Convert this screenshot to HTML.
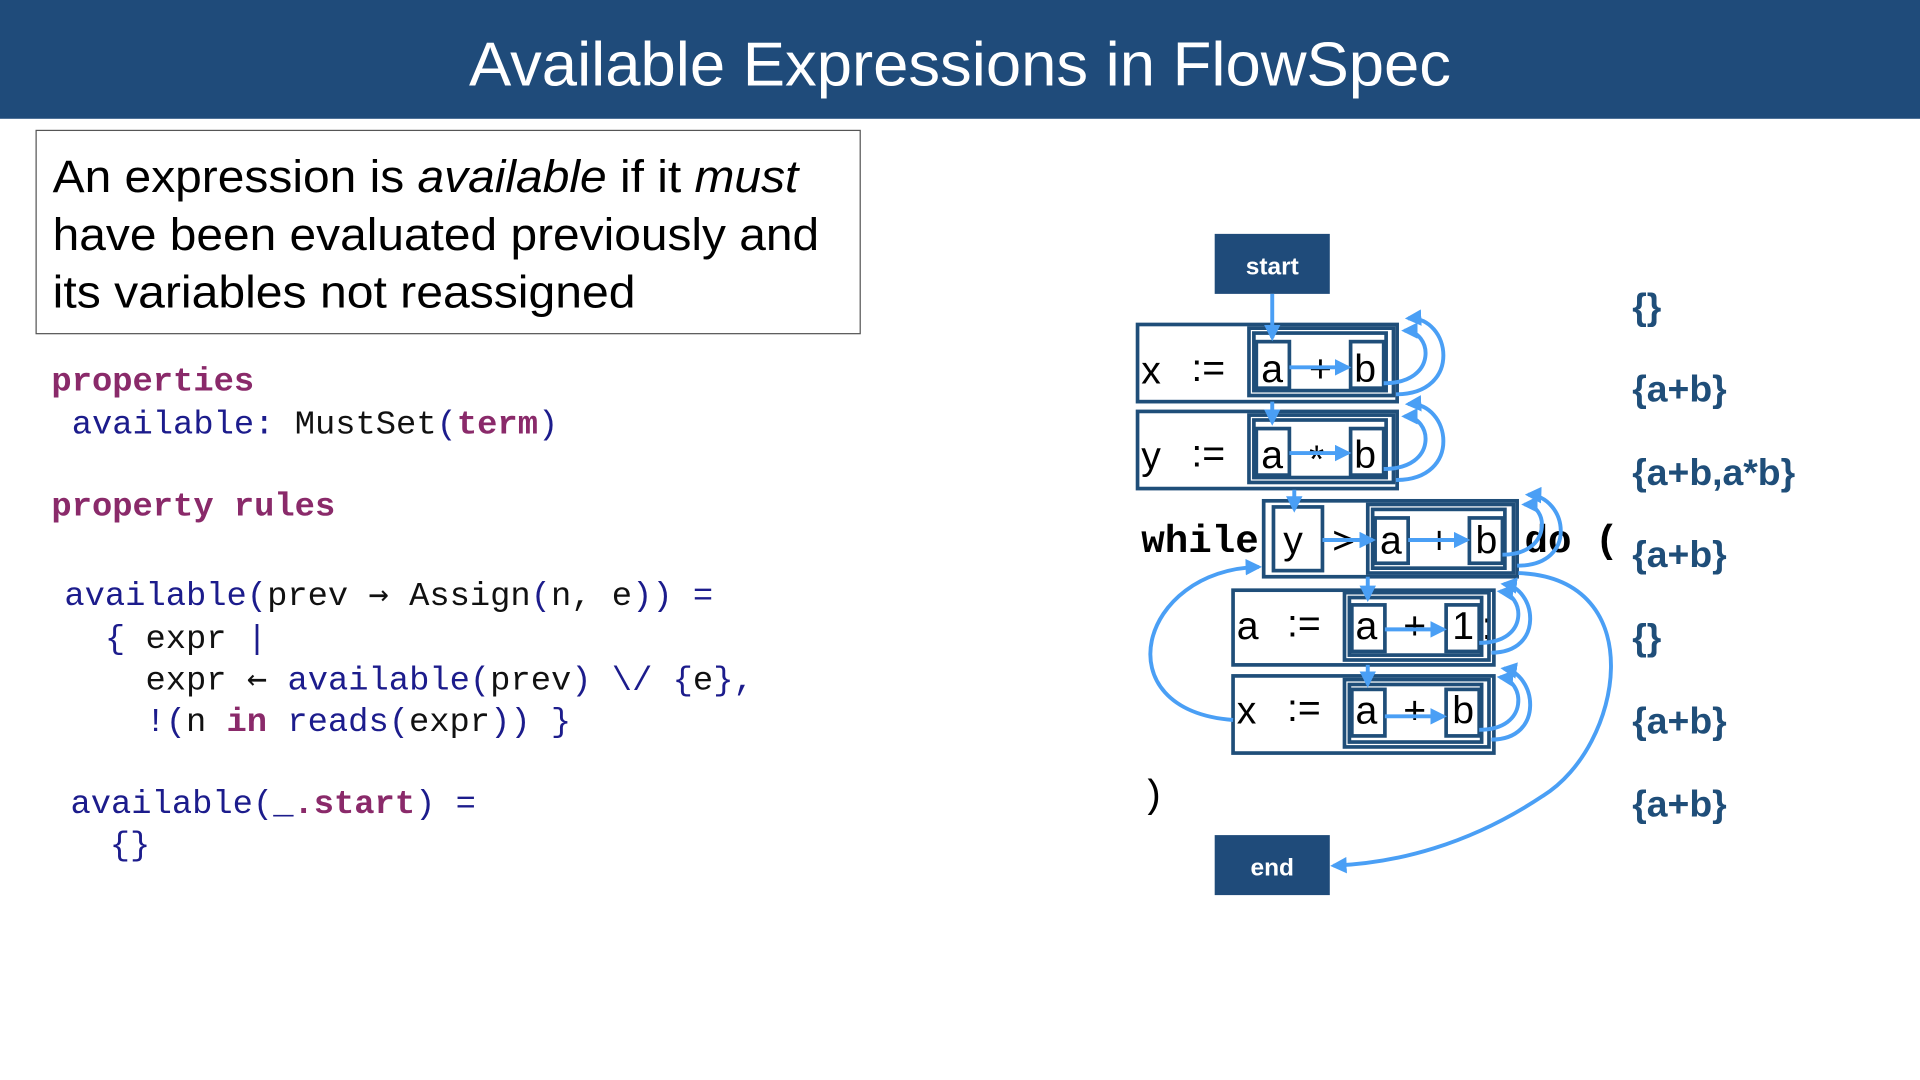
<!DOCTYPE html>
<html><head><meta charset="utf-8"><style>
html,body{margin:0;padding:0;background:#fff;width:1920px;height:1080px;overflow:hidden}
svg{display:block}
.m{font-family:"Liberation Mono","DejaVu Sans Mono",monospace;font-size:27.6px}
.ar2{font-family:"DejaVu Sans Mono",monospace}
.p{fill:#8a2a6a;font-weight:bold}
.b{fill:#1c1c8c}
.k{fill:#111}
.s{font-family:"Liberation Sans",sans-serif}
.bx{fill:none;stroke:#1f4e79;stroke-width:3}
.ar{fill:none;stroke:#4a9ff5;stroke-width:3.2}
.set{font-family:"Liberation Sans",sans-serif;font-weight:bold;font-size:30.5px;fill:#1f4e79}
</style></head><body>
<svg width="1920" height="1080" viewBox="0 0 1568 882" xmlns="http://www.w3.org/2000/svg">
<defs><marker id="h" viewBox="0 0 10 10" refX="8" refY="5" markerWidth="4.2" markerHeight="4.2" orient="auto-start-reverse"><path d="M0,0L10,5L0,10z" fill="#4a9ff5"/></marker></defs>
<rect x="0" y="0" width="1568" height="97" fill="#1f4b7a"/>
<text x="383" y="70" textLength="802" lengthAdjust="spacingAndGlyphs" class="s" font-size="51" fill="#fff">Available Expressions in FlowSpec</text>
<rect x="29.5" y="106.5" width="673" height="166" fill="none" stroke="#555" stroke-width="1"/>
<g class="s" font-size="37" fill="#000">
<text x="43" y="157" textLength="609" lengthAdjust="spacingAndGlyphs">An expression is <tspan font-style="italic">available</tspan> if it <tspan font-style="italic">must</tspan></text>
<text x="43" y="204" textLength="626" lengthAdjust="spacingAndGlyphs">have been evaluated previously and</text>
<text x="43" y="251" textLength="476" lengthAdjust="spacingAndGlyphs">its variables not reassigned</text>
</g>
<g class="m">
<text x="42" y="319" class="p">properties</text>
<text x="42" y="354" xml:space="preserve" class="b"> available: <tspan class="k">MustSet</tspan>(<tspan class="p">term</tspan>)</text>
<text x="42" y="421" class="p">property rules</text>
<text x="36" y="494" xml:space="preserve" class="b"> available(<tspan class="k">prev <tspan class="ar2">→</tspan> Assign</tspan>(<tspan class="k">n, e</tspan>)) =</text>
<text x="36" y="529" xml:space="preserve" class="b">   { <tspan class="k">expr</tspan> |</text>
<text x="36" y="563" xml:space="preserve" class="b">     <tspan class="k">expr <tspan class="ar2">←</tspan></tspan> available(<tspan class="k">prev</tspan>) \/ {<tspan class="k">e</tspan>},</text>
<text x="36" y="597" xml:space="preserve" class="b">     !(<tspan class="k">n </tspan><tspan class="p">in</tspan> reads(<tspan class="k">expr</tspan>)) }</text>
<text x="41" y="664" xml:space="preserve" class="b"> available(_<tspan class="p">.start</tspan>) =</text>
<text x="40" y="698" xml:space="preserve" class="b">   {}</text>
</g>
<rect x="992" y="191" width="94" height="49" fill="#1f4b7a"/>
<text x="1039" y="224" text-anchor="middle" class="s" font-weight="bold" font-size="20" fill="#fff">start</text>
<rect x="992" y="682" width="94" height="49" fill="#1f4b7a"/>
<text x="1039" y="715" text-anchor="middle" class="s" font-weight="bold" font-size="20" fill="#fff">end</text>
<g class="s" font-size="32" fill="#000">
<text x="932" y="313">x</text><text x="973" y="311">:=</text>
<text x="1030" y="312">a</text><text x="1069" y="312">+</text><text x="1106" y="312">b</text>
<text x="932" y="383">y</text><text x="973" y="381">:=</text>
<text x="1030" y="382">a</text><text x="1069" y="386">*</text><text x="1106" y="382">b</text>
<text x="1048" y="452">y</text><text x="1088" y="452">&gt;</text><text x="1127" y="452">a</text><text x="1166" y="452">+</text><text x="1205" y="452">b</text>
<text x="1010" y="522">a</text><text x="1051" y="520">:=</text>
<text x="1107" y="522">a</text><text x="1146" y="522">+</text><text x="1186" y="522">1</text><text x="1210" y="522">;</text>
<text x="1010" y="591">x</text><text x="1051" y="589">:=</text>
<text x="1107" y="591">a</text><text x="1146" y="591">+</text><text x="1186" y="591">b</text>
</g>
<text x="932" y="451" style="font-family:'Liberation Mono',monospace;font-weight:bold;font-size:32px" fill="#000">while</text>
<text x="1245" y="451" style="font-family:'Liberation Mono',monospace;font-weight:bold;font-size:32px" fill="#000">do (</text>
<text x="932" y="659" style="font-family:'Liberation Mono',monospace;font-size:32px" fill="#000">)</text>
<g>
<rect class="bx" x="929" y="265" width="212" height="63"/>
<rect class="bx" x="1020" y="268" width="118" height="55"/><rect class="bx" x="1024" y="272" width="108" height="47"/>
<rect class="bx" x="1026" y="279" width="27" height="38"/><rect class="bx" x="1103" y="279" width="27" height="38"/>
<rect class="bx" x="929" y="336" width="212" height="63"/>
<rect class="bx" x="1020" y="339" width="118" height="55"/><rect class="bx" x="1024" y="343" width="108" height="47"/>
<rect class="bx" x="1026" y="350" width="27" height="38"/><rect class="bx" x="1103" y="350" width="27" height="38"/>
<rect class="bx" x="1032" y="409" width="207" height="62"/>
<rect class="bx" x="1040" y="414" width="40" height="52"/>
<rect class="bx" x="1117" y="412" width="119" height="56"/><rect class="bx" x="1121" y="416" width="108" height="48"/>
<rect class="bx" x="1123" y="423" width="27" height="37"/><rect class="bx" x="1200" y="423" width="27" height="37"/>
<rect class="bx" x="1007" y="482" width="213" height="61"/>
<rect class="bx" x="1098" y="484" width="118" height="55"/><rect class="bx" x="1102" y="488" width="108" height="47"/>
<rect class="bx" x="1104" y="494" width="27" height="38"/><rect class="bx" x="1181" y="494" width="27" height="38"/>
<rect class="bx" x="1007" y="552" width="213" height="63"/>
<rect class="bx" x="1098" y="555" width="118" height="55"/><rect class="bx" x="1102" y="559" width="108" height="47"/>
<rect class="bx" x="1104" y="563" width="27" height="38"/><rect class="bx" x="1181" y="563" width="27" height="38"/>
</g>
<g class="ar" marker-end="url(#h)">
<path d="M1039,240V276"/>
<path d="M1053,300H1101"/>
<path d="M1130,313C1175,313 1170,270 1147,270"/>
<path d="M1140,322C1195,322 1185,258 1150,260"/>
<path d="M1039,328V345"/>
<path d="M1053,370H1101"/>
<path d="M1130,383C1175,383 1170,340 1147,340"/>
<path d="M1140,392C1195,392 1185,328 1150,330"/>
<path d="M1057,400V416"/>
<path d="M1080,441H1121"/>
<path d="M1150,441H1198"/>
<path d="M1227,453C1268,453 1265,412 1245,412"/>
<path d="M1239,462C1290,462 1280,405 1248,404"/>
<path d="M1117,471V489"/>
<path d="M1131,514H1179"/>
<path d="M1208,525C1250,525 1245,485 1225,483"/>
<path d="M1218,533C1262,533 1255,480 1228,477"/>
<path d="M1117,543V559"/>
<path d="M1131,585H1179"/>
<path d="M1208,596C1250,596 1245,555 1225,553"/>
<path d="M1218,604C1262,604 1255,550 1228,546"/>
<path d="M1007,588C900,580 930,465 1028,463"/>
<path d="M1240,468C1350,472 1325,610 1260,650C1200,690 1140,705 1089,707"/>
</g>
<text class="set" x="1333" y="261">{}</text>
<text class="set" x="1333" y="328">{a+b}</text>
<text class="set" x="1333" y="396">{a+b,a*b}</text>
<text class="set" x="1333" y="463">{a+b}</text>
<text class="set" x="1333" y="531">{}</text>
<text class="set" x="1333" y="599">{a+b}</text>
<text class="set" x="1333" y="667">{a+b}</text>
</svg>
</body></html>
